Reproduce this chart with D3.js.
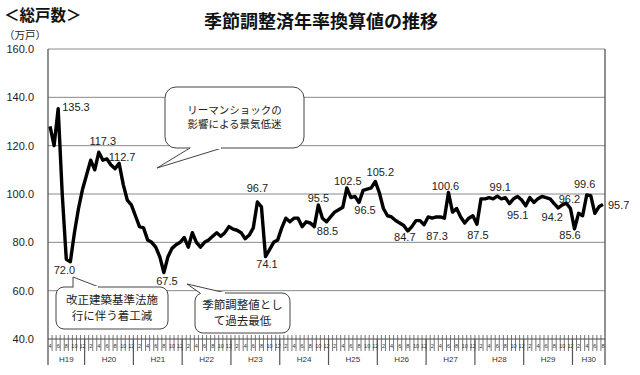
<!DOCTYPE html>
<html><head><meta charset="utf-8">
<script src="https://cdn.jsdelivr.net/npm/d3@7"></script>
<style>
html,body{margin:0;padding:0;background:#fff;}
svg{display:block;}
</style></head>
<body>
<svg id="chart" width="640" height="375"></svg>
<script>
// ---- data ----
const yearLabels = ["H19","H20","H21","H22","H23","H24","H25","H26","H27","H28","H29","H30"];
const monthsPerYear = [9,12,12,12,12,12,12,12,12,12,12,8];
const firstMonth = 4;
const values = [
128,120,135.3,100,73,72.0,84,94,102,
108,114,110,117.3,114,114.5,112,110.5,112.7,104,97.5,95.5,
91,86.5,86,81,80,78,74,67.5,74,77.5,79,80,
82,78,84,80,78,80,81,82.5,84,82.5,84,86.5,
85.5,85,84,81.5,83,86,96.7,94.7,74.1,77,80,81,
86,90,88.5,90,90,86.5,88.5,88,86.5,95.5,90,88.5,
90.5,92.5,93.5,94.5,102.5,98.5,99,96.5,101.5,102,102.5,105.2,
100.5,94,91,90.5,89,88,87,84.7,86.5,89,89,87.3,
90.5,90,90.5,90.5,90,100.6,92.5,94,90.5,88,90,91,
87.5,98,98,98.5,98,99.1,98,98.5,96,98,99,97.5,
95.1,98.5,96.5,98,99,98.5,98,96,94.2,95.5,96.2,94,
85.6,92,91,99.6,99.3,92,94.7,95.7
];
const labelIdx = [2,5,12,17,28,51,53,66,68,73,76,80,88,92,98,105,110,117,125,127,129,132,136];
const yTicks = [40,60,80,100,120,140,160];

// ---- label placement (style) ----
const labelOffsets = {
  2:[4,2,"start"],5:[-6,12],12:[4,-7],17:[3,-2],28:[3,12],51:[0,-9.5],53:[1.5,11],
  66:[0,-3],68:[1,13],73:[1,-3],76:[6,12],80:[5,-5],88:[-3,10.5],92:[13,15],
  98:[-3,-3],105:[1,15],110:[3,-5],117:[-8,13],125:[-6,13],127:[3,0],129:[-4.5,10],
  132:[-2,-6.5],136:[5,5,"start"]
};

// build month categories
const months = [];
let m = firstMonth;
yearLabels.forEach((yl, yi) => {
  for (let k = 0; k < monthsPerYear[yi]; k++) {
    months.push({year: yl, month: m, id: yl + "-" + m});
    m = m === 12 ? 1 : m + 1;
  }
});
const data = months.map((d, i) => ({...d, value: values[i]}));

const svg = d3.select("#chart");
const L = 48, R = 605, T = 49, B = 339;
const x = d3.scaleBand().domain(months.map(d => d.id)).range([L, R]).padding(0);
const y = d3.scaleLinear().domain([40, 160]).range([B, T]);
const cx = d => x(d.id) + x.bandwidth() / 2;

const jp = "'Noto Sans CJK JP','Noto Sans',sans-serif";
const lat = "'Liberation Sans',Arial,sans-serif";

// titles
svg.append("text").attr("x", 4).attr("y", 21).attr("font-family", jp).attr("font-weight", "bold")
  .attr("font-size", 15.5).attr("fill", "#111").text("＜総戸数＞");
svg.append("text").attr("x", 4).attr("y", 39).attr("font-family", jp)
  .attr("font-size", 10.5).attr("fill", "#222").text("（万戸）");
svg.append("text").attr("x", 321).attr("y", 28).attr("text-anchor", "middle").attr("font-family", jp)
  .attr("font-weight", "bold").attr("font-size", 18).attr("fill", "#111").text("季節調整済年率換算値の推移");

// gridlines
svg.append("g").selectAll("line").data(yTicks.filter(v => v > 40)).join("line")
  .attr("x1", L).attr("x2", R).attr("y1", d => y(d)).attr("y2", d => y(d))
  .attr("stroke", "#8a8a8a").attr("stroke-width", 1);

// y labels
svg.append("g").selectAll("text").data(yTicks).join("text")
  .attr("x", 34).attr("y", d => y(d)).attr("dy", "0.36em").attr("text-anchor", "end")
  .attr("font-family", lat).attr("font-size", 11).attr("fill", "#222")
  .text(d => d.toFixed(1));

// borders
svg.append("line").attr("x1", L).attr("x2", L).attr("y1", T).attr("y2", 365).attr("stroke", "#555").attr("stroke-width", 1.3);
svg.append("line").attr("x1", R).attr("x2", R).attr("y1", T).attr("y2", 365).attr("stroke", "#555").attr("stroke-width", 1.3);
svg.append("line").attr("x1", L).attr("x2", R).attr("y1", B).attr("y2", B).attr("stroke", "#444").attr("stroke-width", 1.2);

// month ticks
const tickG = svg.append("g");
tickG.selectAll("line").data(months.slice(1)).join("line")
  .attr("x1", d => x(d.id)).attr("x2", d => x(d.id)).attr("y1", 335).attr("y2", 351)
  .attr("stroke", "#555").attr("stroke-width", 0.8);
tickG.selectAll("text").data(months.filter(d => d.month % 2 === 0)).join("text")
  .attr("x", d => cx(d)).attr("y", 348).attr("text-anchor", "middle")
  .attr("font-family", lat).attr("font-size", 5.5).attr("fill", "#333")
  .text(d => d.month);

// year dividers and labels
let acc = 0;
const yearInfo = yearLabels.map((yl, yi) => {
  const start = months[acc].id; const end = months[acc + monthsPerYear[yi] - 1].id;
  acc += monthsPerYear[yi];
  return {yl, x0: x(start), x1: x(end) + x.bandwidth()};
});
svg.append("g").selectAll("line").data(yearInfo.slice(1)).join("line")
  .attr("x1", d => d.x0).attr("x2", d => d.x0).attr("y1", B).attr("y2", 365)
  .attr("stroke", "#555").attr("stroke-width", 1.2);
svg.append("g").selectAll("text").data(yearInfo).join("text")
  .attr("x", d => (d.x0 + d.x1) / 2).attr("y", 362).attr("text-anchor", "middle")
  .attr("font-family", lat).attr("font-size", 8).attr("fill", "#333").text(d => d.yl);

// callouts
function callout(rx, ry, w, h, r, base, tip, lines, fs, lineGap) {
  const g = svg.append("g");
  g.append("rect").attr("x", rx).attr("y", ry).attr("width", w).attr("height", h).attr("rx", r)
    .attr("fill", "#fff").attr("stroke", "#444").attr("stroke-width", 1);
  g.append("path").attr("d", `M${base[0][0]},${base[0][1]}L${tip[0]},${tip[1]}L${base[1][0]},${base[1][1]}`)
    .attr("fill", "#fff").attr("stroke", "#444").attr("stroke-width", 1);
  g.append("line").attr("x1", base[0][0] + 0.8).attr("x2", base[1][0] - 0.8)
    .attr("y1", base[0][1]).attr("y2", base[1][1]).attr("stroke", "#fff").attr("stroke-width", 2);
  const cxm = rx + w / 2;
  const cy0 = ry + h / 2 - (lines.length - 1) * lineGap / 2;
  lines.forEach((t, i) => {
    g.append("text").attr("x", cxm).attr("y", cy0 + i * lineGap).attr("dy", "0.36em")
      .attr("text-anchor", "middle").attr("font-family", jp).attr("font-size", fs).attr("fill", "#222").text(t);
  });
}

// line
svg.append("path").datum(data)
  .attr("fill", "none").attr("stroke", "#000").attr("stroke-width", 3.4).attr("stroke-linejoin", "round")
  .attr("d", d3.line().x(cx).y(d => y(d.value)));

callout(165, 87, 139, 61, 11, [[190,148],[222,148]], [157,168], ["リーマンショックの","影響による景気低迷"], 10.5, 14);
callout(56, 287, 112, 42, 8, [[73,287],[99,287]], [73,277], ["改正建築基準法施","行に伴う着工減"], 11.5, 15.5);
callout(195, 293, 95, 40, 8, [[200,293],[226,293]], [187,284], ["季節調整値とし","て過去最低"], 11.5, 15.5);

// data labels
svg.append("g").selectAll("text").data(labelIdx).join("text")
  .attr("x", i => cx(data[i]) + labelOffsets[i][0])
  .attr("y", i => y(data[i].value) + labelOffsets[i][1])
  .attr("text-anchor", i => labelOffsets[i][2] || "middle")
  .attr("font-family", lat).attr("font-size", 11).attr("fill", "#222")
  .text(i => data[i].value.toFixed(1));
</script>
</body></html>
